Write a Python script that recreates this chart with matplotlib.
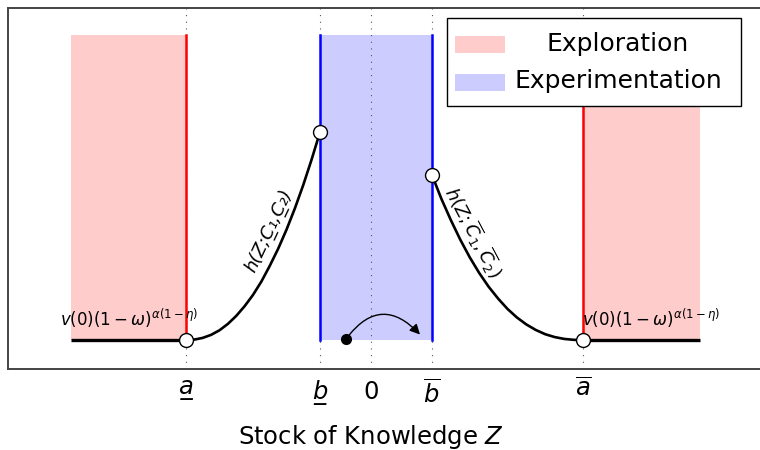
import matplotlib
matplotlib.use("Agg")
import matplotlib.pyplot as plt
from matplotlib.patches import Rectangle, FancyArrowPatch

plt.rcParams['mathtext.fontset'] = 'dejavusans'
plt.rcParams['font.family'] = ['DejaVu Sans']

# Key positions on the knowledge axis
a_low, b_low, zero, b_bar, a_bar = -185, -51, 0, 61, 212
tick_pos = [a_low, b_low, zero, b_bar, a_bar]
tick_labels = [r"$\underline{a}$", r"$\underline{b}$", "$0$", r"$\overline{b}$", r"$\overline{a}$"]
tick_fallback = ["a\u0332", "b\u0332", "0", "b\u0304", "a\u0304"]
tick_label_y = [-0.158, -0.172, -0.17, -0.18, -0.163]

# Region extents
explore_left = (-300, a_low)
explore_right = (a_bar, 329)
experiment = (b_low, b_bar)
region_top = 1.0

# Left curve h(Z; C1_, C2_)
left_x = [-185, -176.6, -168.3, -159.9, -151.5, -143.1, -134.8, -126.4, -118, -109.6,
          -101.3, -92.9, -84.5, -76.1, -67.8, -59.4, -51]
left_y = [0.0, 0.0015, 0.007, 0.017, 0.032, 0.053, 0.079, 0.111, 0.148, 0.192,
          0.243, 0.299, 0.362, 0.432, 0.508, 0.592, 0.682]
# Right curve h(Z; C1^, C2^)
right_x = [61, 70.4, 79.9, 89.3, 98.8, 108.2, 117.6, 127.1, 136.5, 145.9,
           155.4, 164.8, 174.3, 183.7, 193.1, 202.6, 212]
right_y = [0.541, 0.463, 0.393, 0.329, 0.271, 0.220, 0.175, 0.136, 0.102, 0.074,
           0.051, 0.033, 0.019, 0.0097, 0.0037, 0.0007, 0.0]

# Flat parts
flat_left_x = [-300, a_low]
flat_right_x = [a_bar, 329]
flat_y = [0.0, 0.0]

# Open circles
circle_x = [a_low, b_low, b_bar, a_bar]
circle_y = [0.0, 0.682, 0.541, 0.0]

# Dot and jump arrow
dot = (-25, 0.003)
arrow_end = (49, 0.018)

fig = plt.figure(figsize=(7.6, 4.5), dpi=100)
ax = fig.add_axes([8/760, 81/450, 1 - 8/760, 361/450])
ax.set_xlim(-363, 389)
ax.set_ylim(-0.095, 1.089)

pink = '#ffcccc'
lblue = '#ccccff'

for (x0, x1) in [explore_left, explore_right]:
    ax.add_patch(Rectangle((x0, 0), x1 - x0, region_top, facecolor=pink, edgecolor='none', zorder=1))
ax.add_patch(Rectangle((experiment[0], 0), experiment[1] - experiment[0], region_top,
                       facecolor=lblue, edgecolor='none', zorder=1))

for p in tick_pos:
    ax.axvline(p, color='#555555', lw=0.8, ls=(0, (1, 5)), zorder=2)

ax.plot([a_low, a_low], [0, region_top], color='red', lw=1.8, zorder=3)
ax.plot([a_bar, a_bar], [0, region_top], color='red', lw=1.8, zorder=3)
ax.plot([b_low, b_low], [0, region_top], color='blue', lw=1.8, zorder=3)
ax.plot([b_bar, b_bar], [0, region_top], color='blue', lw=1.8, zorder=3)

ax.plot(flat_left_x, flat_y, color='black', lw=2.4, zorder=4, solid_capstyle='butt')
ax.plot(flat_right_x, flat_y, color='black', lw=2.4, zorder=4, solid_capstyle='butt')
ax.plot(left_x, left_y, color='black', lw=1.9, zorder=4)
ax.plot(right_x, right_y, color='black', lw=1.9, zorder=4)

ax.plot(circle_x, circle_y, 'o', ms=10, mfc='white', mec='black', mew=1.0, zorder=6, clip_on=False)
ax.plot([dot[0]], [dot[1]], 'o', ms=7, color='black', zorder=6)
ax.add_patch(FancyArrowPatch(dot, arrow_end, connectionstyle='arc3,rad=-0.6',
                             arrowstyle='-|>,head_length=6,head_width=3', lw=1.0,
                             color='black', zorder=6, shrinkA=3, shrinkB=0))

vlabel = r'$v(0)(1-\omega)^{\alpha(1-\eta)}$'
ax.text(-242, 0.07, vlabel, fontsize=12, ha='center', va='center', zorder=7)
ax.text(280, 0.07, vlabel, fontsize=12, ha='center', va='center', zorder=7)

t_left = ax.text(-102, 0.36, r'$h(Z;\underline{C}_1,\underline{C}_2)$',
                 fontsize=13, ha='center', va='center', rotation=65, zorder=7)
ax.text(102, 0.355, r'$h(Z;\overline{C}_1,\overline{C}_2)$',
        fontsize=13, ha='center', va='center', rotation=-62, zorder=7)

ax.set_xticks([])
ax.set_yticks([])
tick_texts = []
for p, lab, ly in zip(tick_pos, tick_labels, tick_label_y):
    tick_texts.append(ax.text(p, ly, lab, fontsize=17.5, ha='center', va='center', clip_on=False))
ax.text(0, -0.318, 'Stock of Knowledge $Z$', fontsize=17.5, ha='center', va='center')

ax.spines['right'].set_visible(False)
for s in ['left', 'top', 'bottom']:
    ax.spines[s].set_color('#444444')
    ax.spines[s].set_linewidth(1.4)

# Manual legend (axes fraction)
lx0, ly0, lw_, lh = (447-8)/752, (369-106)/361, (741-447)/752, (106-18)/361
ax.add_patch(Rectangle((lx0, ly0), lw_, lh, transform=ax.transAxes, facecolor='white',
                       edgecolor='black', lw=1.0, zorder=8))
ax.add_patch(Rectangle(((455-8)/752, (369-53)/361), 50/752, 17/361, transform=ax.transAxes,
                       facecolor=pink, edgecolor='none', zorder=9))
ax.add_patch(Rectangle(((455-8)/752, (369-91)/361), 50/752, 17/361, transform=ax.transAxes,
                       facecolor=lblue, edgecolor='none', zorder=9))
ax.text((618-8)/752, (369-44)/361, 'Exploration', transform=ax.transAxes, fontsize=18,
        ha='center', va='center', zorder=9)
ax.text((618-8)/752, (369-81)/361, 'Experimentation', transform=ax.transAxes, fontsize=18,
        ha='center', va='center', zorder=9)

# Fall back to combining underline characters if mathtext lacks \underline
try:
    fig.canvas.draw()
except Exception:
    t_left.set_text('h(Z;C\u0332\u2081,C\u0332\u2082)')
    t_left.set_style('italic')
    for t, fb in zip(tick_texts, tick_fallback):
        if 'underline' in t.get_text():
            t.set_text(fb)
            t.set_style('italic')

fig.savefig('out.png', dpi=100)
